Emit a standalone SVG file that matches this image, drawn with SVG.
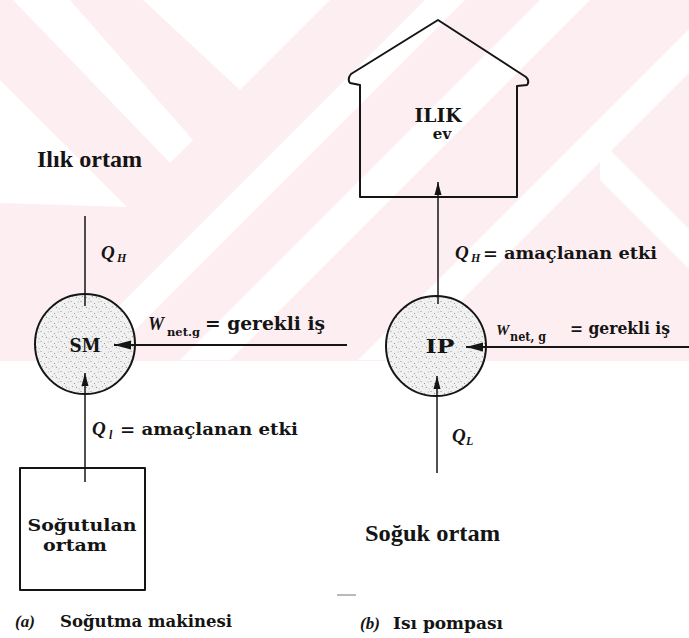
<svg xmlns="http://www.w3.org/2000/svg" width="689" height="638" viewBox="0 0 689 638">
  <style>
    .ln{stroke:#151515;fill:none;stroke-width:1.5;stroke-linecap:butt}
    .heavy{stroke-width:2.1}
    .shape{stroke:#151515;stroke-width:2;fill:none;stroke-linejoin:round}
    .title{font-family:"Liberation Serif","Times New Roman",serif;font-weight:bold;font-size:24px;fill:#141414}
    .lab{font-family:"DejaVu Serif","Liberation Serif",serif;font-weight:bold;fill:#141414}
    .sym{font-family:"Liberation Serif","Times New Roman",serif;font-style:italic;font-weight:bold;fill:#141414}
    .wm{fill:#ffffff}
  </style>
  <defs>
    <pattern id="stipple" width="10" height="10" patternUnits="userSpaceOnUse">
      <rect width="10" height="10" fill="#f1f1f1"/>
      <circle cx="1" cy="1.5" r="0.6" fill="#8a8a8a"/>
      <circle cx="4.5" cy="3.5" r="0.55" fill="#8a8a8a"/>
      <circle cx="8.2" cy="2" r="0.5" fill="#9a9a9a"/>
      <circle cx="2.3" cy="6.6" r="0.55" fill="#8a8a8a"/>
      <circle cx="6.4" cy="7.4" r="0.6" fill="#909090"/>
      <circle cx="9.1" cy="8.8" r="0.5" fill="#9a9a9a"/>
      <circle cx="5.6" cy="5.4" r="0.45" fill="#a0a0a0"/>
    </pattern>
    <marker id="head" markerUnits="userSpaceOnUse" markerWidth="18" markerHeight="10" refX="17" refY="5" orient="auto">
      <path d="M0,0.5 L17,5 L0,9.5 Z" fill="#151515"/>
    </marker>
    <marker id="headSmall" markerUnits="userSpaceOnUse" markerWidth="14" markerHeight="8" refX="13" refY="4" orient="auto">
      <path d="M0,0.5 L13,4 L0,7.5 Z" fill="#151515"/>
    </marker>
  </defs>

  <rect width="689" height="638" fill="#ffffff"/>

  <!-- faint background print, upper part of the sheet -->
  <g id="watermark">
    <rect x="0" y="0" width="689" height="361" fill="#fdeef1"/>
    <polygon class="wm" points="13,0 70,0 193,140 170,163"/>
    <polygon class="wm" points="143,0 330,0 240,90"/>
    <polygon class="wm" points="0,80 127,207 0,203"/>
    <polygon class="wm" points="425,0 465,0 105,360 65,360"/>
    <polygon class="wm" points="540,0 590,0 230,360 180,360"/>
    <polygon class="wm" points="689,29 689,73 402,360 358,360"/>
    <polygon class="wm" points="600,140 600,180 689,269 689,229"/>
  </g>

  <!-- (a) refrigerator -->
  <text id="warm-env-label" class="title" x="37" y="167" textLength="105" lengthAdjust="spacingAndGlyphs">Ilık ortam</text>

  <g id="SM">
    <circle cx="85" cy="344" r="50" fill="url(#stipple)" stroke="#151515" stroke-width="2"/>
    <text class="lab" x="85" y="352" font-size="19" text-anchor="middle" textLength="31" lengthAdjust="spacingAndGlyphs">SM</text>
  </g>

  <g id="cooled-space">
    <rect x="20" y="468" width="125" height="122" class="shape"/>
    <text class="lab" x="82" y="531" font-size="16" text-anchor="middle" textLength="109" lengthAdjust="spacingAndGlyphs">Soğutulan</text>
    <text class="lab" x="75" y="551" font-size="16" text-anchor="middle" textLength="64" lengthAdjust="spacingAndGlyphs">ortam</text>
  </g>

  <!-- (b) heat pump -->
  <g id="house">
    <path class="shape" d="M360,197 L360,85 L350,83 Q347,79 351,74 L438,20 L526,77 Q530,81 527,85 L517,86 L517,197 Z"/>
    <text class="lab" x="438" y="122" font-size="19" text-anchor="middle" textLength="47" lengthAdjust="spacingAndGlyphs">ILIK</text>
    <text class="lab" x="442" y="139" font-size="15" text-anchor="middle">ev</text>
  </g>

  <g id="IP">
    <circle cx="436" cy="346" r="50" fill="url(#stipple)" stroke="#151515" stroke-width="2"/>
    <text class="lab" x="440" y="353" font-size="19" text-anchor="middle" textLength="29" lengthAdjust="spacingAndGlyphs">IP</text>
  </g>

  <text id="cold-env-label" class="title" x="365" y="541" textLength="135" lengthAdjust="spacingAndGlyphs">Soğuk ortam</text>

  <g id="connectors">
    <!-- refrigerator -->
    <line class="ln" x1="85" y1="216" x2="85" y2="306"/>
    <line class="ln heavy" x1="347" y1="345" x2="114" y2="345" marker-end="url(#head)"/>
    <line class="ln" x1="85" y1="482" x2="85" y2="373" marker-end="url(#headSmall)"/>
    <!-- heat pump -->
    <line class="ln" x1="438" y1="304" x2="438" y2="182" marker-end="url(#headSmall)"/>
    <line class="ln heavy" x1="689" y1="347" x2="466" y2="347" marker-end="url(#head)"/>
    <line class="ln" x1="437" y1="473" x2="437" y2="376" marker-end="url(#headSmall)"/>
  </g>

  <g id="flow-labels">
    <!-- refrigerator -->
    <text class="sym" x="101" y="259" font-size="19">Q</text>
    <text class="sym" x="117" y="262" font-size="12">H</text>

    <text class="sym" x="148" y="330" font-size="18">W</text>
    <text class="lab" x="167" y="336" font-size="11" textLength="33" lengthAdjust="spacingAndGlyphs">net.g</text>
    <text class="lab" x="205" y="330" font-size="18" textLength="120" lengthAdjust="spacingAndGlyphs">= gerekli iş</text>

    <text class="sym" x="92" y="435" font-size="19">Q</text>
    <text class="sym" x="109" y="439" font-size="12">l</text>
    <text class="lab" x="120" y="435" font-size="17" textLength="178" lengthAdjust="spacingAndGlyphs">= amaçlanan etki</text>

    <!-- heat pump -->
    <text class="sym" x="455" y="259" font-size="19">Q</text>
    <text class="sym" x="471" y="262" font-size="12">H</text>
    <text class="lab" x="483" y="259" font-size="17" textLength="174" lengthAdjust="spacingAndGlyphs">= amaçlanan etki</text>

    <text class="sym" x="496" y="335" font-size="15">W</text>
    <text class="lab" x="510" y="341" font-size="12" font-weight="normal" textLength="36" lengthAdjust="spacingAndGlyphs">net, g</text>
    <text class="lab" x="570" y="334" font-size="16" textLength="100" lengthAdjust="spacingAndGlyphs">= gerekli iş</text>

    <text class="sym" x="452" y="442" font-size="19">Q</text>
    <text class="sym" x="466" y="445" font-size="12">L</text>
  </g>

  <g id="captions">
    <text x="15" y="627"><tspan class="sym" font-style="normal" font-weight="normal" font-size="17">(</tspan><tspan class="sym" font-weight="normal" font-size="17">a</tspan><tspan class="sym" font-style="normal" font-weight="normal" font-size="17">)</tspan></text>
    <text class="lab" x="60" y="627" font-size="16" textLength="172" lengthAdjust="spacingAndGlyphs">Soğutma makinesi</text>
    <text x="360" y="629"><tspan class="sym" font-style="normal" font-weight="normal" font-size="17">(</tspan><tspan class="sym" font-weight="normal" font-size="17">b</tspan><tspan class="sym" font-style="normal" font-weight="normal" font-size="17">)</tspan></text>
    <text class="lab" x="393" y="629" font-size="16.5" textLength="110" lengthAdjust="spacingAndGlyphs">Isı pompası</text>
  </g>

  <line x1="337" y1="595" x2="356" y2="595" stroke="#777" stroke-width="1"/>
</svg>
